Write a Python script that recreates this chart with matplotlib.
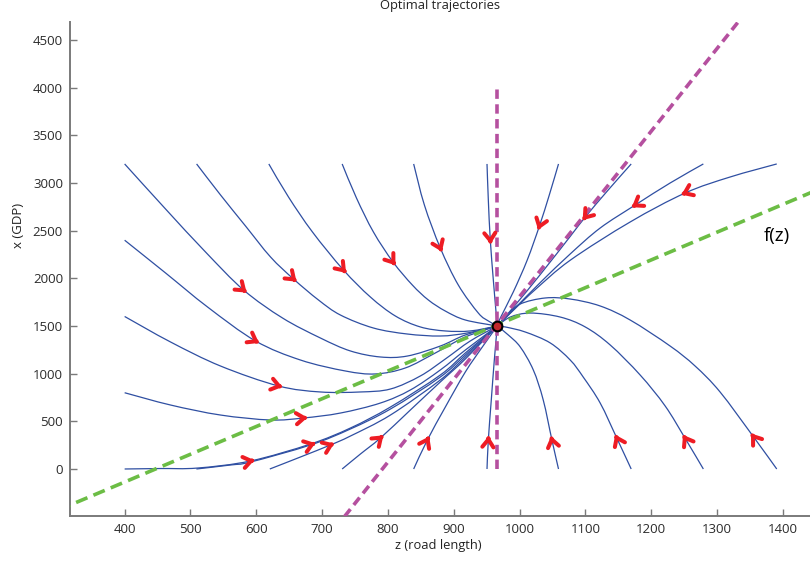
import numpy as np
import matplotlib
matplotlib.use('Agg')
import matplotlib.pyplot as plt
from matplotlib.path import Path
from matplotlib.patches import PathPatch

plt.rcParams['font.family'] = ['Open Sans', 'DejaVu Sans']

# ---------------- data ----------------
eq_z, eq_x = 966, 1500

# trajectories starting on the top row (x = 3200)
t01_z = [400, 462.2, 522.9, 580.6, 639.8, 697.4, 743, 788.5, 829.4, 879.5, 917.5, 966]
t01_x = [3200, 2727, 2276, 1878, 1584, 1374, 1238, 1175, 1185, 1290, 1406, 1500]
t02_z = [509.3, 545.7, 583.6, 621.6, 656.5, 694.4, 727.8, 777.9, 829.4, 879.5, 920.5, 966]
t02_x = [3200, 2874, 2549, 2224, 1993, 1773, 1615, 1479, 1416, 1395, 1427, 1500]
t03_z = [619, 648.9, 685.3, 732.3, 773.3, 811.2, 849.2, 887.1, 925, 966]
t03_x = [3200, 2853, 2486, 2088, 1804, 1605, 1490, 1448, 1448, 1500]
t04_z = [730.4, 752.1, 777.9, 807.7, 837, 861.3, 887.1, 917.5, 966]
t04_x = [3200, 2843, 2486, 2171, 1930, 1773, 1657, 1563, 1500]
t05_z = [839, 855.3, 879.5, 906.8, 937.2, 952.4, 966]
t05_x = [3200, 2769, 2318, 1930, 1636, 1553, 1500]
t06_z = [950.4, 952.4, 955.4, 960, 964.5, 966]
t06_x = [3200, 2822, 2402, 1983, 1615, 1500]
t07_z = [1059, 1045, 1030, 1011.5, 990.3, 970.6, 966]
t07_x = [3200, 2874, 2549, 2192, 1857, 1584, 1500]
t08_z = [1169.4, 1134.5, 1099.6, 1076.8, 1031.3, 993.3, 966]
t08_x = [3200, 2927, 2643, 2440, 2040, 1720, 1500]
t09_z = [1279, 1228.5, 1175.5, 1122.3, 1076.8, 1031.3, 993.3, 966]
t09_x = [3200, 3000, 2769, 2528, 2256, 1956, 1690, 1500]
t10_z = [1390.5, 1319.6, 1251.3, 1167.8, 1076.8, 1023.7, 993.3, 966]
t10_x = [3200, 3063, 2895, 2591, 2190, 1882, 1684, 1500]

# trajectories starting on the left column (z = 400)
l1_z = [400, 462.2, 526, 598.8, 667.1, 735.4, 780.9, 826.4, 871.9, 917.5, 966]
l1_x = [2400, 2056, 1699, 1343, 1143, 1028, 997, 1060, 1217, 1385, 1500]
l2_z = [400, 469.8, 545.7, 633.7, 697.4, 758.1, 803.7, 849.2, 887.1, 925, 966]
l2_x = [1600, 1332, 1080, 871, 808, 808, 839, 976, 1154, 1343, 1500]
l3_z = [400, 469.8, 545.7, 621.6, 671.6, 727.8, 788.5, 834, 879.5, 917.5, 966]
l3_x = [800, 671, 566, 514, 535, 587, 692, 829, 1039, 1248, 1500]
l4_z = [400, 454.6, 510.8, 591.2, 682.3, 743, 803.7, 879.5, 917.5, 966]
l4_x = [0, 5, 10, 84, 262, 430, 650, 986, 1217, 1500]

# trajectories starting on the bottom row (x = 0)
b1_z = [509, 560.9, 591.2, 682.3, 743, 803.7, 879.5, 917.5, 966]
b1_x = [0, 42, 73, 252, 420, 629, 965, 1196, 1500]
b2_z = [620.5, 667.1, 712.6, 743, 803.7, 879.5, 917.5, 966]
b2_x = [0, 126, 252, 346, 566, 934, 1175, 1500]
b3_z = [730.4, 758.1, 788.5, 834, 879.5, 917.5, 966]
b3_x = [0, 157, 325, 619, 913, 1154, 1500]
b4_z = [839, 859.8, 887.1, 917.5, 943.3, 966]
b4_x = [0, 304, 650, 1018, 1280, 1500]
b5_z = [950.4, 952.4, 956.9, 961.5, 966]
b5_x = [0, 304, 724, 1143, 1500]
b6_z = [1059, 1049, 1035.8, 1020.7, 1000.9, 982.7, 966]
b6_x = [0, 304, 724, 1039, 1280, 1406, 1500]
b7_z = [1169.4, 1147.7, 1122.3, 1096.5, 1076.8, 1046.5, 1008.5, 978.2, 966]
b7_x = [0, 322, 692, 965, 1143, 1322, 1437, 1490, 1500]
b8_z = [1279, 1251.3, 1221, 1183, 1137.5, 1099.6, 1061.6, 1016.1, 985.8, 966]
b8_x = [0, 322, 661, 986, 1301, 1490, 1594, 1636, 1594, 1500]
b9_z = [1390.5, 1355, 1304.4, 1266.5, 1228.5, 1167.8, 1122.3, 1076.8, 1038.9, 1000.9, 981.2, 966]
b9_x = [0, 339, 808, 1080, 1290, 1563, 1710, 1783, 1794, 1731, 1615, 1500]

# arrow positions along each trajectory (same order as the list below)
arrow_z = [580.6, 656.5, 732.3, 807.7, 879.5, 955.4, 1030, 1099.6, 1175.5, 1251.3,
           598.8, 633.7, 671.6, 591.2,
           684, 712.6, 788.5, 859.8, 952.4, 1049, 1147.7, 1251.3, 1355]
arrow_x = [1878, 1993, 2088, 2171, 2318, 2402, 2549, 2643, 2769, 2895,
           1343, 871, 535, 84,
           258, 252, 325, 304, 304, 304, 322, 322, 339]

# dashed reference lines
vert_z = [966, 966]
vert_x = [0, 4000]
diag_z = [720, 1345]
diag_x = [-620, 4803]
fz_z = [300, 1460]
fz_x = [-428, 2951]
fz_label = 'f(z)'
fz_label_pos = (1391, 2444)

x_ticks = [400, 500, 600, 700, 800, 900, 1000, 1100, 1200, 1300, 1400]
y_ticks = [0, 500, 1000, 1500, 2000, 2500, 3000, 3500, 4000, 4500]

trajectories = [
    (t01_z, t01_x), (t02_z, t02_x), (t03_z, t03_x), (t04_z, t04_x), (t05_z, t05_x),
    (t06_z, t06_x), (t07_z, t07_x), (t08_z, t08_x), (t09_z, t09_x), (t10_z, t10_x),
    (l1_z, l1_x), (l2_z, l2_x), (l3_z, l3_x), (l4_z, l4_x),
    (b1_z, b1_x), (b2_z, b2_x), (b3_z, b3_x), (b4_z, b4_x), (b5_z, b5_x),
    (b6_z, b6_x), (b7_z, b7_x), (b8_z, b8_x), (b9_z, b9_x),
]

# ---------------- figure ----------------
W, H = 810, 561
fig = plt.figure(figsize=(W / 100, H / 100), dpi=100)
ax = fig.add_axes([70 / W, 1 - 515.7 / H, 740 / W, (515.7 - 22.3) / H])
ax.set_xlim(317, 1441)
ax.set_ylim(-490, 4686)

blue = '#2f4fa2'
magenta = '#b5509f'
green = '#6cbd45'
red = '#ee1c24'
grey = '#7a7a7a'


def smooth_path(z, x):
    """Bezier path through the read points (rendered by matplotlib)."""
    P = np.column_stack([z, x]).astype(float)
    n = len(P)
    verts = [P[0]]
    codes = [Path.MOVETO]
    for i in range(n - 1):
        p0 = P[i - 1] if i > 0 else P[i]
        p1, p2 = P[i], P[i + 1]
        p3 = P[i + 2] if i + 2 < n else P[i + 1]
        c1 = p1 + (p2 - p0) / 6.0
        c2 = p2 - (p3 - p1) / 6.0
        verts += [c1, c2, p2]
        codes += [Path.CURVE4] * 3
    return Path(verts, codes)


for z, x in trajectories:
    ax.add_patch(PathPatch(smooth_path(z, x), facecolor='none', edgecolor=blue,
                           lw=0.9, zorder=2))

ax.plot(fz_z, fz_x, color=green, lw=2.6, dashes=(3.4, 1.8), zorder=3)
ax.plot(vert_z, vert_x, color=magenta, lw=2.6, dashes=(2.6, 1.5), zorder=3)
ax.plot(diag_z, diag_x, color=magenta, lw=2.6, dashes=(2.6, 1.5), zorder=3)

# arrow heads
T = ax.transData
for (z, x), az, axv in zip(trajectories, arrow_z, arrow_x):
    pts = T.transform(np.column_stack([z, x]))
    p = T.transform([az, axv])
    d = np.hypot(*(pts - p).T)
    i = int(np.argmin(d))
    if i == len(pts) - 1:
        i -= 1
    if 0 < i and d[i] < 1.5:
        seg = pts[i + 1] - pts[i - 1]
    else:
        seg = pts[i + 1] - pts[i]
    u = seg / np.hypot(*seg)
    tip = p + u * 4
    tail = tip - u * 3
    tip_d = T.inverted().transform(tip)
    tail_d = T.inverted().transform(tail)
    ax.annotate('', xy=tip_d, xytext=tail_d,
                arrowprops=dict(arrowstyle='->,head_length=0.55,head_width=0.4',
                                color=red, lw=2.9, shrinkA=0, shrinkB=0),
                zorder=5)

ax.plot([eq_z], [eq_x], 'o', ms=7, mfc='#c1272d', mec='black', mew=1.5, zorder=6)

ax.text(fz_label_pos[0], fz_label_pos[1], fz_label, fontsize=13.5, ha='center', va='center',
        color='black')

# axes styling
for s in ['top', 'right']:
    ax.spines[s].set_visible(False)
for s in ['left', 'bottom']:
    ax.spines[s].set_color(grey)
    ax.spines[s].set_linewidth(1.4)
ax.set_xticks(x_ticks)
ax.set_yticks(y_ticks)
ax.tick_params(direction='in', length=5, width=1, color=grey, labelsize=9.5,
               labelcolor='#2b2b2b', pad=5)

fig.text(440 / W, 1 - 6 / H, 'Optimal trajectories', fontsize=9.3, ha='center', va='center',
         color='#222222')
fig.text(438 / W, 1 - 546 / H, 'z (road length)', fontsize=9.3, ha='center', va='center',
         color='#222222')
fig.text(18 / W, 1 - 225 / H, 'x (GDP)', fontsize=9.5, ha='center', va='center',
         rotation=90, color='#222222')

fig.savefig('out.png', dpi=100)
